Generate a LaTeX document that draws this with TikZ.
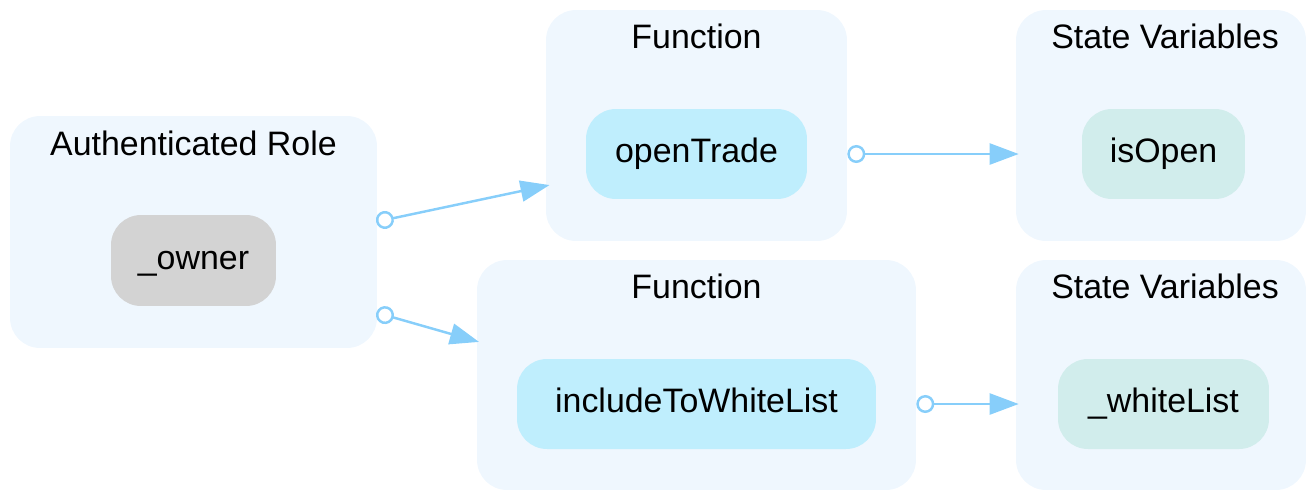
\documentclass[tikz,border=0pt]{standalone}
\usepackage{fontspec}
\setmainfont{Liberation Sans}
\usetikzlibrary{arrows.meta}
\definecolor{clusterfill}{HTML}{EFF7FE}
\definecolor{funcfill}{HTML}{BFEEFD}
\definecolor{statefill}{HTML}{D1EDEC}
\definecolor{rolefill}{HTML}{D3D3D3}
\definecolor{linkblue}{HTML}{87CEFA}
\begin{document}
\begin{tikzpicture}[x=0.02cm, y=-0.02cm]
    % Define styles
    \tikzset{
        cluster/.style={rectangle, rounded corners=0.6cm, fill=clusterfill, inner sep=0pt},
        title/.style={font=\fontsize{19.3}{23}\selectfont, inner sep=0pt},
        box/.style={rectangle, rounded corners=0.6cm, inner sep=0pt, minimum height=1.8cm,
            text height=9.8pt, text depth=0pt, font=\fontsize{19.3}{23}\selectfont},
        func/.style={box, fill=funcfill},
        statevar/.style={box, fill=statefill},
        role/.style={box, fill=rolefill},
        link/.style={draw=linkblue, line width=1.4pt,
            {Circle[open, length=0.36cm, fill=white]}-{Triangle[length=0.58cm, width=0.42cm]}}
    }
    \useasboundingbox (0,0) rectangle (1316,491);

    % Draw clusters
    \node[cluster, minimum width=7.34cm, minimum height=4.64cm] (authC) at (193.5,232) {};
    \node[cluster, minimum width=6.02cm, minimum height=4.62cm] (funOneC) at (696.5,125.5) {};
    \node[cluster, minimum width=5.8cm, minimum height=4.62cm] (stateOneC) at (1161,125.5) {};
    \node[cluster, minimum width=8.78cm, minimum height=4.6cm] (funTwoC) at (696.5,375) {};
    \node[cluster, minimum width=5.8cm, minimum height=4.6cm] (stateTwoC) at (1161,375) {};

    % Cluster titles
    \node[title] (authT) at (193.5,143.5) {Authenticated Role};
    \node[title] (funOneT) at (696.5,36) {Function};
    \node[title] (stateOneT) at (1165,36) {State Variables};
    \node[title] (funTwoT) at (696.5,286) {Function};
    \node[title] (stateTwoT) at (1165,286) {State Variables};

    % Draw nodes
    \node[role, minimum width=3.3cm, minimum height=1.82cm] (owner) at (193.5,260.5) {\_owner};
    \node[func, minimum width=4.42cm] (openTrade) at (696.5,154) {openTrade};
    \node[statevar, minimum width=3.26cm] (isOpen) at (1163.5,154) {isOpen};
    \node[func, minimum width=7.18cm] (include) at (696.5,404) {includeToWhiteList};
    \node[statevar, minimum width=4.22cm] (whiteList) at (1163.5,404) {\_whiteList};

    % Draw links
    \draw[link, shorten <=2.04cm, shorten >=0.74cm] (owner) -- (openTrade);
    \draw[link, shorten <=2.08cm, shorten >=1.22cm] (owner) -- (include);
    \draw[link, shorten <=0.8cm, shorten >=1.26cm] (openTrade) -- (isOpen);
    \draw[link, shorten <=0.8cm, shorten >=0.78cm] (include) -- (whiteList);
\end{tikzpicture}
\end{document}
